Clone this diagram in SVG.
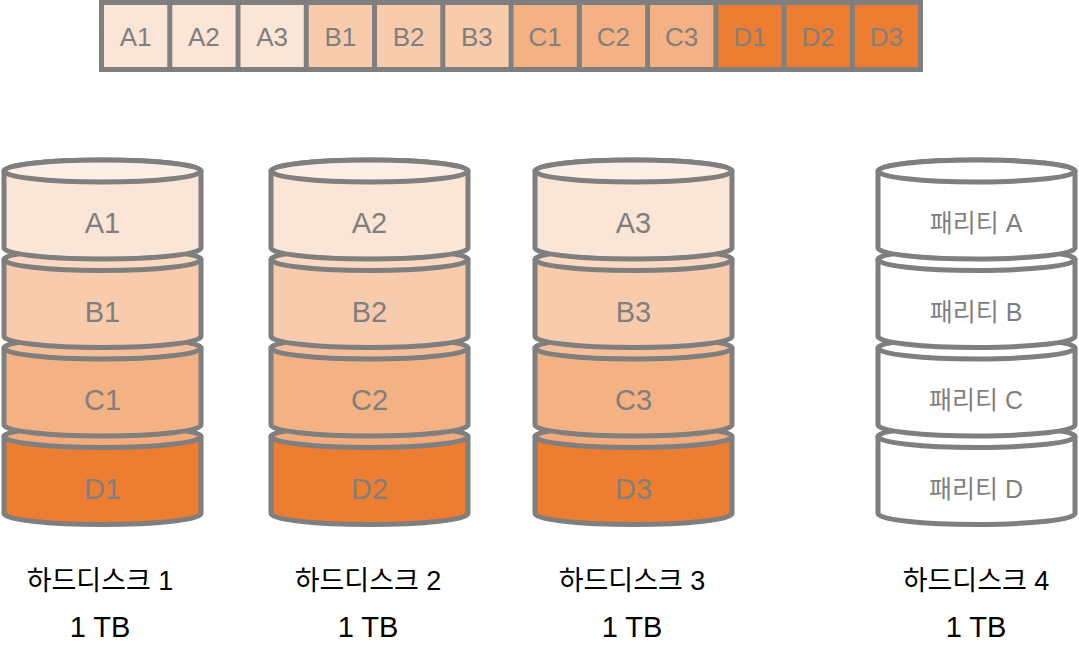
<svg xmlns="http://www.w3.org/2000/svg" width="1079" height="672" viewBox="0 0 1079 672">
<style>
.s{stroke:#7F7F7F;stroke-width:5;stroke-linejoin:round}
.a{fill:#FBE5D6}.at{fill:#FDEFE6}
.b{fill:#F8CBAD}.bt{fill:#FAD8C2}
.c{fill:#F4B183}.ct{fill:#F6BF99}
.d{fill:#ED7D31}.dt{fill:#F3AB7C}
.w{fill:#FFFFFF}
.lbl{font-family:"Liberation Sans",Arial,sans-serif;font-size:29px;fill:#7F7F7F;text-anchor:middle}
.cell{font-family:"Liberation Sans",Arial,sans-serif;font-size:26px;fill:#7F7F7F;text-anchor:middle}
.par{font-family:"Liberation Sans","Noto Sans CJK KR",sans-serif;font-size:25px;fill:#7F7F7F;text-anchor:middle}
.cap{font-family:"Liberation Sans","Noto Sans CJK KR",sans-serif;font-size:27px;fill:#000000;text-anchor:middle}
.tb{font-family:"Liberation Sans",Arial,sans-serif;font-size:29px;fill:#000000;text-anchor:middle}
</style>

<g id="strip">
<rect x="99" y="0" width="824" height="72" fill="#7F7F7F"/>
<rect class="a" x="104" y="5" width="63.3" height="62"/>
<rect class="a" x="172.3" y="5" width="63.3" height="62"/>
<rect class="a" x="240.5" y="5" width="63.3" height="62"/>
<rect class="b" x="308.8" y="5" width="63.3" height="62"/>
<rect class="b" x="377" y="5" width="63.3" height="62"/>
<rect class="b" x="445.3" y="5" width="63.3" height="62"/>
<rect class="c" x="513.5" y="5" width="63.3" height="62"/>
<rect class="c" x="581.8" y="5" width="63.3" height="62"/>
<rect class="c" x="650" y="5" width="63.3" height="62"/>
<rect class="d" x="718.3" y="5" width="63.3" height="62"/>
<rect class="d" x="786.5" y="5" width="63.3" height="62"/>
<rect class="d" x="854.8" y="5" width="63.3" height="62"/>
<text class="cell" x="135.6" y="46">A1</text>
<text class="cell" x="203.9" y="46">A2</text>
<text class="cell" x="272.1" y="46">A3</text>
<text class="cell" x="340.4" y="46">B1</text>
<text class="cell" x="408.6" y="46">B2</text>
<text class="cell" x="476.9" y="46">B3</text>
<text class="cell" x="545.1" y="46">C1</text>
<text class="cell" x="613.4" y="46">C2</text>
<text class="cell" x="681.6" y="46">C3</text>
<text class="cell" x="749.9" y="46">D1</text>
<text class="cell" x="818.1" y="46">D2</text>
<text class="cell" x="886.4" y="46">D3</text>
</g>

<g id="disk1">
<path class="s d" d="M4,436.5 V513.5 A98.5,11 0 0 0 201,513.5 V436.5 A98.5,11 0 0 0 4,436.5 Z"/>
<ellipse class="s dt" cx="102.5" cy="436.5" rx="98.5" ry="11"/>
<path class="s c" d="M4,348 V425 A98.5,11 0 0 0 201,425 V348 A98.5,11 0 0 0 4,348 Z"/>
<ellipse class="s ct" cx="102.5" cy="348" rx="98.5" ry="11"/>
<path class="s b" d="M4,259.5 V336.5 A98.5,11 0 0 0 201,336.5 V259.5 A98.5,11 0 0 0 4,259.5 Z"/>
<ellipse class="s bt" cx="102.5" cy="259.5" rx="98.5" ry="11"/>
<path class="s a" d="M4,171 V248 A98.5,11 0 0 0 201,248 V171 A98.5,11 0 0 0 4,171 Z"/>
<ellipse class="s at" cx="102.5" cy="171" rx="98.5" ry="11"/>
<text class="lbl" x="102.5" y="233">A1</text>
<text class="lbl" x="102.5" y="322">B1</text>
<text class="lbl" x="102.5" y="410">C1</text>
<text class="lbl" x="102.5" y="499">D1</text>
<text class="cap" x="100" y="590">하드디스크 1</text>
<text class="tb" x="100" y="637">1 TB</text>
</g>

<g id="disk2">
<path class="s d" d="M271,436.5 V513.5 A98.5,11 0 0 0 468,513.5 V436.5 A98.5,11 0 0 0 271,436.5 Z"/>
<ellipse class="s dt" cx="369.5" cy="436.5" rx="98.5" ry="11"/>
<path class="s c" d="M271,348 V425 A98.5,11 0 0 0 468,425 V348 A98.5,11 0 0 0 271,348 Z"/>
<ellipse class="s ct" cx="369.5" cy="348" rx="98.5" ry="11"/>
<path class="s b" d="M271,259.5 V336.5 A98.5,11 0 0 0 468,336.5 V259.5 A98.5,11 0 0 0 271,259.5 Z"/>
<ellipse class="s bt" cx="369.5" cy="259.5" rx="98.5" ry="11"/>
<path class="s a" d="M271,171 V248 A98.5,11 0 0 0 468,248 V171 A98.5,11 0 0 0 271,171 Z"/>
<ellipse class="s at" cx="369.5" cy="171" rx="98.5" ry="11"/>
<text class="lbl" x="369.5" y="233">A2</text>
<text class="lbl" x="369.5" y="322">B2</text>
<text class="lbl" x="369.5" y="410">C2</text>
<text class="lbl" x="369.5" y="499">D2</text>
<text class="cap" x="368" y="590">하드디스크 2</text>
<text class="tb" x="368" y="637">1 TB</text>
</g>

<g id="disk3">
<path class="s d" d="M535,436.5 V513.5 A98.5,11 0 0 0 732,513.5 V436.5 A98.5,11 0 0 0 535,436.5 Z"/>
<ellipse class="s dt" cx="633.5" cy="436.5" rx="98.5" ry="11"/>
<path class="s c" d="M535,348 V425 A98.5,11 0 0 0 732,425 V348 A98.5,11 0 0 0 535,348 Z"/>
<ellipse class="s ct" cx="633.5" cy="348" rx="98.5" ry="11"/>
<path class="s b" d="M535,259.5 V336.5 A98.5,11 0 0 0 732,336.5 V259.5 A98.5,11 0 0 0 535,259.5 Z"/>
<ellipse class="s bt" cx="633.5" cy="259.5" rx="98.5" ry="11"/>
<path class="s a" d="M535,171 V248 A98.5,11 0 0 0 732,248 V171 A98.5,11 0 0 0 535,171 Z"/>
<ellipse class="s at" cx="633.5" cy="171" rx="98.5" ry="11"/>
<text class="lbl" x="633.5" y="233">A3</text>
<text class="lbl" x="633.5" y="322">B3</text>
<text class="lbl" x="633.5" y="410">C3</text>
<text class="lbl" x="633.5" y="499">D3</text>
<text class="cap" x="632" y="590">하드디스크 3</text>
<text class="tb" x="632" y="637">1 TB</text>
</g>

<g id="disk4">
<path class="s w" d="M878,436.5 V513.5 A98.5,11 0 0 0 1075,513.5 V436.5 A98.5,11 0 0 0 878,436.5 Z"/>
<ellipse class="s w" cx="976.5" cy="436.5" rx="98.5" ry="11"/>
<path class="s w" d="M878,348 V425 A98.5,11 0 0 0 1075,425 V348 A98.5,11 0 0 0 878,348 Z"/>
<ellipse class="s w" cx="976.5" cy="348" rx="98.5" ry="11"/>
<path class="s w" d="M878,259.5 V336.5 A98.5,11 0 0 0 1075,336.5 V259.5 A98.5,11 0 0 0 878,259.5 Z"/>
<ellipse class="s w" cx="976.5" cy="259.5" rx="98.5" ry="11"/>
<path class="s w" d="M878,171 V248 A98.5,11 0 0 0 1075,248 V171 A98.5,11 0 0 0 878,171 Z"/>
<ellipse class="s w" cx="976.5" cy="171" rx="98.5" ry="11"/>
<text class="par" x="976" y="232">패리티 A</text>
<text class="par" x="976" y="321">패리티 B</text>
<text class="par" x="976" y="409">패리티 C</text>
<text class="par" x="976" y="498">패리티 D</text>
<text class="cap" x="976" y="590">하드디스크 4</text>
<text class="tb" x="976" y="637">1 TB</text>
</g>
</svg>
